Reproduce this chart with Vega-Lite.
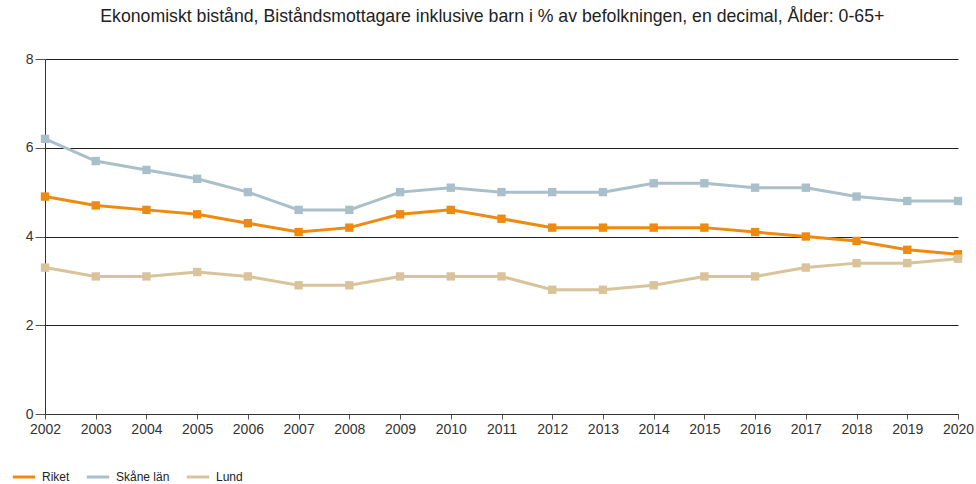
{
  "$schema": "https://vega.github.io/schema/vega-lite/v6.json",
  "autosize": "none",
  "width": 913,
  "height": 355,
  "padding": {"left": 45, "top": 59, "right": 18, "bottom": 70},
  "background": "white",
  "title": {
    "text": "Ekonomiskt bistånd, Biståndsmottagare inklusive barn i % av befolkningen, en decimal, Ålder: 0-65+",
    "fontSize": 17.7,
    "font": "Liberation Sans",
    "fontWeight": "normal",
    "color": "#222",
    "anchor": "middle",
    "frame": "bounds",
    "offset": 26
  },
  "config": {
    "view": {"stroke": null},
    "font": "Liberation Sans"
  },
  "data": {
    "values": [
      {"year": 2002, "serie": "Riket", "value": 4.9},
      {"year": 2003, "serie": "Riket", "value": 4.7},
      {"year": 2004, "serie": "Riket", "value": 4.6},
      {"year": 2005, "serie": "Riket", "value": 4.5},
      {"year": 2006, "serie": "Riket", "value": 4.3},
      {"year": 2007, "serie": "Riket", "value": 4.1},
      {"year": 2008, "serie": "Riket", "value": 4.2},
      {"year": 2009, "serie": "Riket", "value": 4.5},
      {"year": 2010, "serie": "Riket", "value": 4.6},
      {"year": 2011, "serie": "Riket", "value": 4.4},
      {"year": 2012, "serie": "Riket", "value": 4.2},
      {"year": 2013, "serie": "Riket", "value": 4.2},
      {"year": 2014, "serie": "Riket", "value": 4.2},
      {"year": 2015, "serie": "Riket", "value": 4.2},
      {"year": 2016, "serie": "Riket", "value": 4.1},
      {"year": 2017, "serie": "Riket", "value": 4.0},
      {"year": 2018, "serie": "Riket", "value": 3.9},
      {"year": 2019, "serie": "Riket", "value": 3.7},
      {"year": 2020, "serie": "Riket", "value": 3.6},
      {"year": 2002, "serie": "Skåne län", "value": 6.2},
      {"year": 2003, "serie": "Skåne län", "value": 5.7},
      {"year": 2004, "serie": "Skåne län", "value": 5.5},
      {"year": 2005, "serie": "Skåne län", "value": 5.3},
      {"year": 2006, "serie": "Skåne län", "value": 5.0},
      {"year": 2007, "serie": "Skåne län", "value": 4.6},
      {"year": 2008, "serie": "Skåne län", "value": 4.6},
      {"year": 2009, "serie": "Skåne län", "value": 5.0},
      {"year": 2010, "serie": "Skåne län", "value": 5.1},
      {"year": 2011, "serie": "Skåne län", "value": 5.0},
      {"year": 2012, "serie": "Skåne län", "value": 5.0},
      {"year": 2013, "serie": "Skåne län", "value": 5.0},
      {"year": 2014, "serie": "Skåne län", "value": 5.2},
      {"year": 2015, "serie": "Skåne län", "value": 5.2},
      {"year": 2016, "serie": "Skåne län", "value": 5.1},
      {"year": 2017, "serie": "Skåne län", "value": 5.1},
      {"year": 2018, "serie": "Skåne län", "value": 4.9},
      {"year": 2019, "serie": "Skåne län", "value": 4.8},
      {"year": 2020, "serie": "Skåne län", "value": 4.8},
      {"year": 2002, "serie": "Lund", "value": 3.3},
      {"year": 2003, "serie": "Lund", "value": 3.1},
      {"year": 2004, "serie": "Lund", "value": 3.1},
      {"year": 2005, "serie": "Lund", "value": 3.2},
      {"year": 2006, "serie": "Lund", "value": 3.1},
      {"year": 2007, "serie": "Lund", "value": 2.9},
      {"year": 2008, "serie": "Lund", "value": 2.9},
      {"year": 2009, "serie": "Lund", "value": 3.1},
      {"year": 2010, "serie": "Lund", "value": 3.1},
      {"year": 2011, "serie": "Lund", "value": 3.1},
      {"year": 2012, "serie": "Lund", "value": 2.8},
      {"year": 2013, "serie": "Lund", "value": 2.8},
      {"year": 2014, "serie": "Lund", "value": 2.9},
      {"year": 2015, "serie": "Lund", "value": 3.1},
      {"year": 2016, "serie": "Lund", "value": 3.1},
      {"year": 2017, "serie": "Lund", "value": 3.3},
      {"year": 2018, "serie": "Lund", "value": 3.4},
      {"year": 2019, "serie": "Lund", "value": 3.4},
      {"year": 2020, "serie": "Lund", "value": 3.5}
    ]
  },
  "encoding": {
    "x": {
      "field": "year",
      "type": "quantitative",
      "scale": {"domain": [2002, 2020], "nice": false, "zero": false},
      "axis": {
        "title": null,
        "format": "d",
        "values": [2002,2003,2004,2005,2006,2007,2008,2009,2010,2011,2012,2013,2014,2015,2016,2017,2018,2019,2020],
        "grid": false,
        "domainColor": "#333",
        "tickColor": "#555",
        "tickSize": 5,
        "labelFontSize": 14,
        "labelColor": "#333",
        "labelPadding": 3,
        "labelFlush": false
      }
    },
    "y": {
      "field": "value",
      "type": "quantitative",
      "scale": {"domain": [0, 8], "nice": false},
      "axis": {
        "title": null,
        "values": [0, 2, 4, 6, 8],
        "grid": true,
        "gridColor": "#222",
        "gridOpacity": 1,
        "domainColor": "#333",
        "tickColor": "#555",
        "tickSize": 10,
        "labelFontSize": 14,
        "labelColor": "#333",
        "labelPadding": 2
      }
    },
    "color": {
      "field": "serie",
      "type": "nominal",
      "scale": {"domain": ["Riket", "Skåne län", "Lund"], "range": ["#EE8A0F", "#A9BFCA", "#D8C39A"]},
      "legend": {
        "title": null,
        "orient": "none",
        "direction": "horizontal",
        "legendX": -34,
        "legendY": 405,
        "symbolType": "stroke",
        "symbolStrokeWidth": 3,
        "symbolSize": 500,
        "labelFontSize": 12,
        "labelColor": "#222",
        "labelOffset": 5,
        "columnPadding": 10
      }
    }
  },
  "layer": [
    {"mark": {"type": "line", "strokeWidth": 3}},
    {"mark": {"type": "point", "shape": "square", "filled": true, "opacity": 1, "size": 70}}
  ]
}
